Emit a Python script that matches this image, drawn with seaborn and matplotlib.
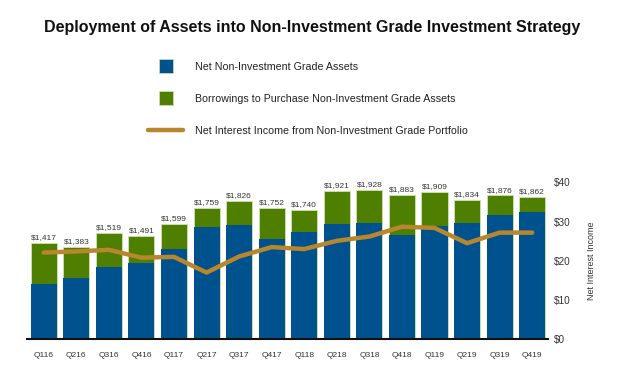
import matplotlib
matplotlib.use("Agg")
import matplotlib.pyplot as plt
import seaborn as sns
import pandas as pd
import numpy as np
from matplotlib.lines import Line2D

quarters = ["Q116", "Q216", "Q316", "Q416", "Q117", "Q217", "Q317", "Q417",
            "Q118", "Q218", "Q318", "Q418", "Q119", "Q219", "Q319", "Q419"]
total_assets = [1417, 1383, 1519, 1491, 1599, 1759, 1826, 1752,
                1740, 1921, 1928, 1883, 1909, 1834, 1876, 1862]
net_assets = [1025, 1088, 1188, 1232, 1367, 1572, 1594, 1460,
              1524, 1604, 1613, 1501, 1587, 1610, 1693, 1716]
net_interest_income = [22.1, 22.4, 22.8, 20.8, 21.0, 17.0, 21.1, 23.5,
                       23.0, 25.1, 26.2, 28.7, 28.4, 24.5, 27.2, 27.2]
right_ticks = [0, 10, 20, 30, 40]

sns.set_theme(style="white")
plt.rcParams['font.family'] = ['Liberation Sans', 'DejaVu Sans']

BLUE = "#00528F"
GREEN = "#4F7F00"
GOLD = "#B8862C"
GREY = "#333333"

df = pd.DataFrame({"quarter": quarters, "total": total_assets,
                   "net": net_assets, "nii": net_interest_income})

fig = plt.figure(figsize=(6.24, 3.81), dpi=100)
ax = fig.add_axes([0.044, 0.110, 0.835, 0.411])

sns.barplot(data=df, x="quarter", y="total", color=GREEN, width=0.8,
            edgecolor="#cfe3b0", linewidth=0.6, ax=ax, saturation=1)
sns.barplot(data=df, x="quarter", y="net", color=BLUE, width=0.8,
            edgecolor="#cfe3b0", linewidth=0.0, ax=ax, saturation=1)
ax.set_ylim(500, 2000)
ax.set_xlim(-0.5, len(quarters) - 0.5)
ax.set_yticks([])
ax.set_xlabel("")
ax.set_ylabel("")
for s in ["top", "left", "right"]:
    ax.spines[s].set_visible(False)
ax.spines["bottom"].set_color("#111111")
ax.spines["bottom"].set_linewidth(1.5)
ax.tick_params(axis="x", length=0, labelsize=6, colors=GREY, pad=9)

for i, v in enumerate(total_assets):
    ax.text(i, v + 18, f"${v:,}", ha="center", va="bottom", fontsize=6, color=GREY)

ax2 = ax.twinx()
sns.lineplot(x=np.arange(len(quarters)), y=net_interest_income, color=GOLD,
             linewidth=3.2, ax=ax2)
ax2.set_ylim(0, 40)
ax2.set_yticks(right_ticks)
ax2.set_yticklabels([f"${t}" for t in right_ticks])
ax2.tick_params(axis="y", length=0, labelsize=7.2, colors=GREY, pad=4)
for s in ["top", "left", "right", "bottom"]:
    ax2.spines[s].set_visible(False)
ax2.set_ylabel("Net Interest Income", fontsize=6.5, color=GREY, rotation=90, labelpad=12)
ax2.yaxis.set_label_position("right")

fig.text(0.5, 0.928, "Deployment of Assets into Non-Investment Grade Investment Strategy",
         ha="center", va="center", fontsize=11.5, fontweight="bold", color="#111111")

handles = [Line2D([0], [0], marker="s", linestyle="none", markersize=9.5,
                  markerfacecolor=BLUE, markeredgecolor="#cfe3b0", markeredgewidth=0.5),
           Line2D([0], [0], marker="s", linestyle="none", markersize=9.5,
                  markerfacecolor=GREEN, markeredgecolor="#cfe3b0", markeredgewidth=0.5),
           Line2D([0], [0], color=GOLD, linewidth=3.2)]
labels = ["Net Non-Investment Grade Assets",
          "Borrowings to Purchase Non-Investment Grade Assets",
          "Net Interest Income from Non-Investment Grade Portfolio"]
fig.legend(handles, labels, loc="upper left", bbox_to_anchor=(0.222, 0.863),
           frameon=False, fontsize=7.7, labelspacing=2.05, handlelength=3.3,
           handletextpad=1.1, labelcolor="#222222")

fig.savefig("out.png", dpi=100)
